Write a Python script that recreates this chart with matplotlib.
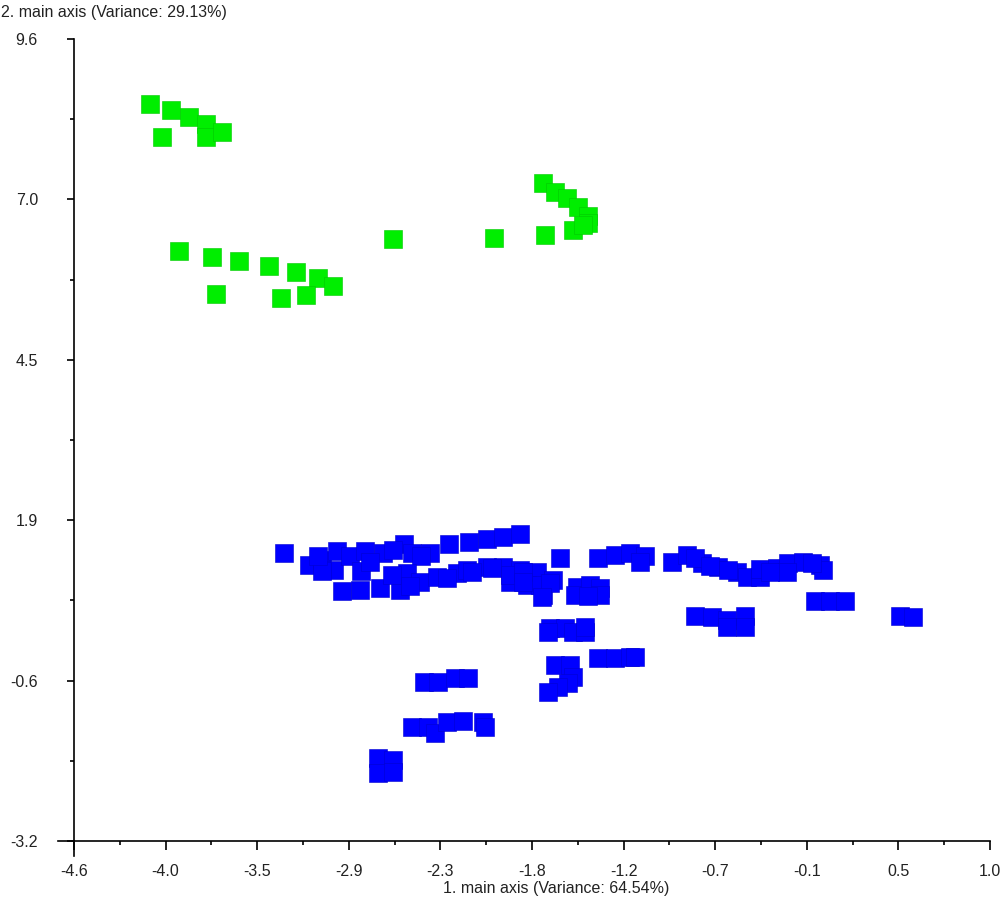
import numpy as np
import matplotlib.pyplot as plt

plt.rcParams['font.family'] = ['Liberation Sans', 'DejaVu Sans']

# green group (upper)
green_x = [-4.135, -4.007, -3.90, -3.79, -3.79, -3.695, -4.06,
           -3.96, -3.757, -3.59, -3.41, -3.243, -3.11, -3.017,
           -3.73, -3.335, -3.18,
           -2.65, -2.033, -1.72, -1.734, -1.66, -1.587, -1.52,
           -1.458, -1.458, -1.55, -1.49]
green_y = [8.56, 8.47, 8.355, 8.24, 8.04, 8.12, 8.04,
           6.22, 6.12, 6.06, 5.98, 5.88, 5.79, 5.66,
           5.53, 5.47, 5.51,
           6.41, 6.42, 6.47, 7.30, 7.16, 7.06, 6.92,
           6.775, 6.66, 6.55, 6.63]

# blue group (lower)
blue_x = [-3.316, -3.164, -3.084, -2.993, -3.011, -2.913, -2.821, -2.846,
          -2.711, -2.583, -2.534, -2.424, -2.308, -2.186, -2.076, -1.978,
          -1.874,
          -3.084, -3.11, -2.79, -2.65, -2.48,
          -2.962, -2.852, -2.73, -2.607, -2.565, -2.485, -2.381, -2.259,
          -2.198, -2.076, -1.978, -1.874, -1.77, -1.935, -1.831, -1.733,
          -1.672, -2.656,
          -2.546, -2.32, -2.167, -2.045, -1.75,
          -1.63, -1.397, -1.293, -1.202, -1.11, -1.141,
          -1.935, -1.856, -1.856, -1.691, -1.74, -1.526, -1.538, -1.446,
          -1.385, -1.385, -1.458,
          -1.691, -1.599, -1.55, -1.477, -1.477, -1.703,
          -1.397, -1.293, -1.202, -1.171,
          -1.66, -1.568, -1.55, -1.581, -1.642, -1.703,
          -0.945, -0.853, -0.762, -0.664, -0.548, -0.487, -0.407, -0.407,
          -0.303, -0.236, -0.144, -0.04, -0.022, -0.242,
          -0.804, -0.713, -0.603, -0.346, -0.09,
          -0.071, 0.021, 0.112,
          -0.804, -0.701, -0.609, -0.609, -0.499, -0.499,
          0.449, 0.528,
          -2.461, -2.375, -2.271, -2.192,
          -2.534, -2.436, -2.394, -2.32, -2.222, -2.10, -2.088,
          -2.742, -2.65, -2.742, -2.65]
blue_y = [1.397, 1.205, 1.285, 1.428, 1.125, 1.349, 1.428, 1.109,
          1.397, 1.54, 1.397, 1.397, 1.54, 1.572, 1.62, 1.652,
          1.70,
          1.109, 1.349, 1.253, 1.444, 1.349,
          0.79, 0.806, 0.838, 0.806, 1.077, 0.934, 1.014, 1.077,
          1.125, 1.173, 1.173, 1.125, 1.093, 0.934, 0.886, 0.726,
          0.966, 1.045,
          0.87, 1.0, 1.093, 1.157, 0.886,
          1.317, 1.317, 1.365, 1.397, 1.349, 1.253,
          1.045, 1.093, 0.934, 0.918, 0.694, 0.854, 0.726, 0.886,
          0.838, 0.726, 0.71,
          0.2, 0.2, 0.136, 0.136, 0.216, 0.136,
          -0.279, -0.279, -0.263, -0.263,
          -0.391, -0.391, -0.582, -0.678, -0.742, -0.822,
          1.253, 1.365, 1.237, 1.173, 1.093, 1.014, 1.014, 1.141,
          1.157, 1.237, 1.253, 1.205, 1.125, 1.093,
          1.317, 1.189, 1.125, 1.093, 1.237,
          0.63, 0.63, 0.63,
          0.391, 0.375, 0.327, 0.216, 0.391, 0.216,
          0.391, 0.375,
          -0.662, -0.662, -0.598, -0.598,
          -1.38, -1.38, -1.476, -1.30, -1.285, -1.30, -1.38,
          -1.875, -1.907, -2.115, -2.099]

x_labels = ["-4.6", "-4.0", "-3.5", "-2.9", "-2.3", "-1.8", "-1.2",
            "-0.7", "-0.1", "0.5", "1.0"]
y_labels = ["-3.2", "-0.6", "1.9", "4.5", "7.0", "9.6"]
x_min, x_max = -4.6, 1.0
y_min, y_max = -3.2, 9.6

fig = plt.figure(figsize=(10, 8.99), dpi=100)
ax = fig.add_axes([0.074, 0.0645, 0.916, 0.892])

ax.scatter(blue_x, blue_y, marker='s', s=12.8 ** 2, c='#0000ff',
           edgecolors='#0000d0', linewidths=0.4, zorder=3)
ax.scatter(green_x, green_y, marker='s', s=12.4 ** 2, c='#00ee00',
           edgecolors='#00c800', linewidths=0.4, zorder=3)

ax.set_xlim(x_min, x_max)
ax.set_ylim(y_min, y_max)

xt = np.linspace(x_min, x_max, len(x_labels))
yt = np.linspace(y_min, y_max, len(y_labels))
ax.set_xticks(xt)
ax.set_xticklabels(x_labels)
ax.set_yticks(yt)
ax.set_yticklabels(y_labels)
ax.set_xticks((xt[:-1] + xt[1:]) / 2, minor=True)
ax.set_yticks((yt[:-1] + yt[1:]) / 2, minor=True)

for s in ['top', 'right']:
    ax.spines[s].set_visible(False)
for s in ['left', 'bottom']:
    ax.spines[s].set_linewidth(1.2)
    ax.spines[s].set_color('black')

ax.tick_params(axis='x', which='major', length=6.5, width=1.2, pad=10,
               labelsize=11.5, colors='black', labelcolor='#222222')
ax.tick_params(axis='y', which='major', length=5, width=1.2, pad=21,
               labelsize=11.5, colors='black', labelcolor='#222222')
ax.tick_params(axis='both', which='minor', length=3.2, width=1.2)

# little overhang where the two axes meet
ax.plot([-0.017, 0], [0, 0], transform=ax.transAxes, color='black',
        lw=1.2, clip_on=False)
ax.plot([0, 0], [-0.019, 0], transform=ax.transAxes, color='black',
        lw=1.2, clip_on=False)

fig.text(0.001, 1 - 12 / 899, "2. main axis (Variance: 29.13%)",
         fontsize=11.5, va='center', ha='left', color='#222222')
fig.text(0.443, 1 - 888 / 899, "1. main axis (Variance: 64.54%)",
         fontsize=11.5, va='center', ha='left', color='#222222')

fig.savefig("out.png", dpi=100)
